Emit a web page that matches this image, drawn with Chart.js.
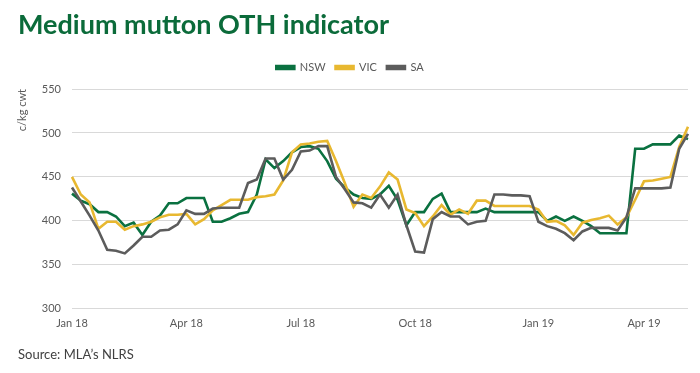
<!DOCTYPE html>
<html>
<head>
<meta charset="utf-8">
<script src="https://cdn.jsdelivr.net/npm/chart.js@4.4.1/dist/chart.umd.min.js"></script>
<style>
  body { margin: 0; background: #fff; }
  #wrap { position: relative; width: 700px; height: 373px; font-family: Lato, sans-serif; }
  #title { position: absolute; left: 18px; top: 7px; margin: 0; font-size: 27px; font-weight: 700; color: #0b6b3a; white-space: nowrap; }
  #source { position: absolute; left: 18px; top: 346px; font-size: 13px; color: #404040; }
  canvas { position: absolute; left: 0; top: 0; }
</style>
</head>
<body>
<div id="wrap">
  <canvas id="chart" width="700" height="373"></canvas>
  <h1 id="title">Medium mutton OTH indicator</h1>
  <div id="source">Source: MLA’s NLRS</div>
</div>
<script>
// weekly sale dates (Mondays)
const weeks = [
  '2018-01-01', '2018-01-08', '2018-01-15', '2018-01-22', '2018-01-29',
  '2018-02-05', '2018-02-12', '2018-02-19', '2018-02-26',
  '2018-03-05', '2018-03-12', '2018-03-19', '2018-03-26',
  '2018-04-02', '2018-04-09', '2018-04-16', '2018-04-23', '2018-04-30',
  '2018-05-07', '2018-05-14', '2018-05-21', '2018-05-28',
  '2018-06-04', '2018-06-11', '2018-06-18', '2018-06-25',
  '2018-07-02', '2018-07-09', '2018-07-16', '2018-07-23', '2018-07-30',
  '2018-08-06', '2018-08-13', '2018-08-20', '2018-08-27',
  '2018-09-03', '2018-09-10', '2018-09-17', '2018-09-24',
  '2018-10-01', '2018-10-08', '2018-10-15', '2018-10-22', '2018-10-29',
  '2018-11-05', '2018-11-12', '2018-11-19', '2018-11-26',
  '2018-12-03', '2018-12-10', '2018-12-17', '2018-12-24', '2018-12-31',
  '2019-01-07', '2019-01-14', '2019-01-21', '2019-01-28',
  '2019-02-04', '2019-02-11', '2019-02-18', '2019-02-25',
  '2019-03-04', '2019-03-11', '2019-03-18', '2019-03-25',
  '2019-04-01', '2019-04-08', '2019-04-15', '2019-04-22', '2019-04-29',
  '2019-05-06'
];

// c/kg cwt
const nsw = [
  431, 423, 419, 410, 410, 405, 394, 398, 384, 399,
  406, 420, 420, 426, 426, 426, 399, 399, 403, 408,
  410, 430, 470, 460, 468, 478, 484, 485, 482, 468,
  448, 438, 430, 426, 425, 430, 440, 424, 395, 410,
  410, 425, 431, 410, 410, 410, 410, 414, 410, 410,
  410, 410, 410, 410, 400, 405, 400, 405, 400, 394,
  386, 386, 386, 386, 482, 482, 487, 487, 487, 497,
  493
];
const vic = [
  450, 430, 421, 391, 399, 399, 390, 394, 396, 399,
  404, 407, 407, 408, 396, 402, 412, 418, 424, 424,
  424, 427, 428, 430, 446, 478, 487, 488, 490, 491,
  468, 443, 416, 430, 426, 439, 455, 447, 413, 409,
  394, 405, 418, 407, 413, 408, 423, 423, 417, 417,
  417, 417, 417, 413, 399, 400, 395, 384, 398, 401,
  403, 406, 396, 404, 424, 445, 446, 448, 450, 484,
  507
];
const sa = [
  438, 422, 406, 389, 367, 366, 363, 372, 382, 382,
  389, 390, 396, 412, 408, 408, 414, 415, 415, 415,
  443, 447, 471, 471, 447, 458, 479, 480, 485, 485,
  450, 436, 421, 420, 415, 430, 415, 430, 395, 365,
  364, 402, 410, 405, 405, 396, 399, 400, 430, 430,
  429, 429, 428, 399, 394, 391, 386, 378, 388, 392,
  392, 392, 389, 404, 437, 437, 437, 437, 438, 482,
  499
];

const tickWeeks = ['2018-01-01', '2018-04-02', '2018-07-02', '2018-10-01', '2019-01-07', '2019-04-01'];
const tickLabels = ['Jan 18', 'Apr 18', 'Jul 18', 'Oct 18', 'Jan 19', 'Apr 19'];

const axisGrey = '#595959';
Chart.defaults.font.family = 'Lato, sans-serif';

function series(label, data, color, order) {
    return {
        label: label,
        data: data,
        borderColor: color,
        backgroundColor: color,
        borderWidth: 2.6,
        pointRadius: 0,
        tension: 0,
        order: order
    };
}

// a bit more room between the legend and the plot
const legendGap = {
    id: 'legendGap',
    beforeInit(chart) {
        const fit = chart.legend.fit;
        chart.legend.fit = function() {
            fit.bind(chart.legend)();
            this.height += 6;
        };
    }
};

new Chart(document.getElementById('chart').getContext('2d'), {
    type: 'line',
    data: {
        labels: weeks,
        datasets: [
            series('NSW', nsw, '#0a7140', 3),
            series('VIC', vic, '#e8b830', 2),
            series('SA', sa, '#5c5c5c', 1)
        ]
    },
    options: {
        responsive: false,
        animation: false,
        layout: { padding: { top: 52, left: 12, right: 12, bottom: 35 } },
        plugins: {
            legend: {
                position: 'top',
                labels: {
                    boxWidth: 18,
                    boxHeight: 3,
                    color: axisGrey,
                    font: { size: 11 },
                    sort: (a, b) => a.datasetIndex - b.datasetIndex
                }
            },
            tooltip: { enabled: false }
        },
        scales: {
            x: {
                grid: { display: false, drawTicks: false },
                border: { display: false },
                ticks: {
                    autoSkip: false,
                    maxRotation: 0,
                    minRotation: 0,
                    padding: 8,
                    color: axisGrey,
                    font: { size: 11 },
                    callback: function(value, index) {
                        const k = tickWeeks.indexOf(weeks[index]);
                        return k >= 0 ? tickLabels[k] : '';
                    }
                }
            },
            y: {
                min: 300,
                max: 550,
                ticks: { stepSize: 50, padding: 11, color: axisGrey, font: { size: 11 } },
                grid: { color: '#d9d9d9', drawTicks: false },
                border: { display: false },
                title: {
                    display: true,
                    text: 'c/kg cwt',
                    align: 'end',
                    color: axisGrey,
                    font: { size: 11 }
                },
                afterFit: function(scale) {
                    scale.width = 60;
                }
            }
        }
    },
    plugins: [legendGap]
});
</script>
</body>
</html>
